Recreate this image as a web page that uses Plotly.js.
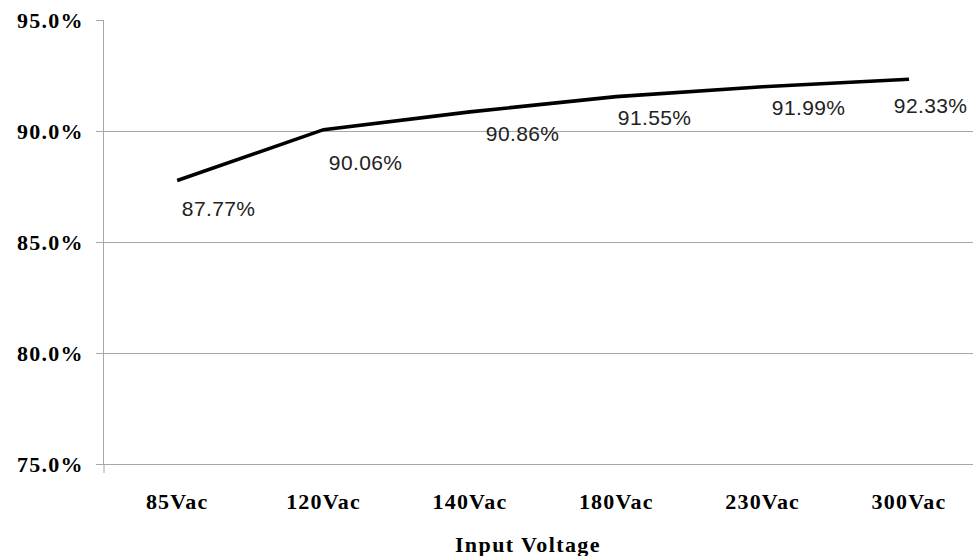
<!DOCTYPE html>
<html>
<head>
<meta charset="utf-8">
<script src="https://cdn.plot.ly/plotly-3.0.1.min.js"></script>
<style>
  html, body { margin: 0; padding: 0; background: #ffffff; }
  #chart { width: 973px; height: 556px; }
  #chart .xtick text, #chart .ytick text { letter-spacing: 1.2px; }
  #chart g.annotation text { letter-spacing: 0.4px; }
  #chart g.annotation[data-index="6"] text { letter-spacing: 1.4px; }
</style>
</head>
<body>
<div id="chart"></div>
<script>
// ---- data ----
const categories = ["85Vac", "120Vac", "140Vac", "180Vac", "230Vac", "300Vac"];
const efficiency = [87.77, 90.06, 90.86, 91.55, 91.99, 92.33];
const yTickValues = [75, 80, 85, 90, 95];
const xAxisTitle = "Input Voltage";

// ---- label placement (pixel offsets from each point) ----
const labelDx = [41, 42, 53, 38, 46, 21];
const labelDy = [-28, -33, -22, -21, -21, -26];

const serifBold = { family: "Liberation Serif, Times New Roman, serif", size: 22, color: "#000000", weight: "bold" };
const gridGray = "#a6a6a6";

const trace = {
  type: "scatter",
  mode: "lines",
  x: categories,
  y: efficiency,
  line: { color: "#000000", width: 3.6 },
  hoverinfo: "skip"
};

const annotations = efficiency.map((v, i) => ({
  x: categories[i],
  y: v,
  xref: "x",
  yref: "y",
  text: v.toFixed(2) + "%",
  showarrow: false,
  xshift: labelDx[i],
  yshift: labelDy[i],
  font: { family: "Liberation Sans, Arial, sans-serif", size: 21, color: "#222222" }
}));

annotations.push({
  xref: "paper",
  yref: "paper",
  x: 0.488,
  y: -0.182,
  xanchor: "center",
  yanchor: "middle",
  text: "<b>" + xAxisTitle + "</b>",
  showarrow: false,
  font: { family: "Liberation Serif, Times New Roman, serif", size: 22, color: "#000000" }
});

const layout = {
  width: 973,
  height: 556,
  margin: { l: 104, r: 0, t: 20, b: 92, pad: 0 },
  paper_bgcolor: "#ffffff",
  plot_bgcolor: "#ffffff",
  showlegend: false,
  xaxis: {
    type: "category",
    range: [-0.5, 5.437],
    showgrid: false,
    zeroline: false,
    showline: true,
    linecolor: gridGray,
    linewidth: 1,
    ticks: "",
    tickfont: serifBold,
    ticklabelstandoff: 18,
    fixedrange: true
  },
  yaxis: {
    range: [75, 95],
    tickvals: yTickValues,
    ticktext: yTickValues.map(v => v.toFixed(1) + "%"),
    showgrid: true,
    gridcolor: gridGray,
    gridwidth: 1,
    zeroline: false,
    showline: true,
    linecolor: gridGray,
    linewidth: 1,
    ticks: "outside",
    ticklen: 7,
    tickcolor: gridGray,
    tickfont: serifBold,
    ticklabelstandoff: 8,
    fixedrange: true
  },
  shapes: [{
    type: "line",
    xref: "paper",
    yref: "paper",
    ysizemode: "pixel",
    yanchor: 0,
    x0: 0, x1: 0,
    y0: 0, y1: -9,
    line: { color: gridGray, width: 1 }
  }],
  annotations: annotations
};

Plotly.newPlot("chart", [trace], layout, { displayModeBar: false, staticPlot: true });
</script>
</body>
</html>
